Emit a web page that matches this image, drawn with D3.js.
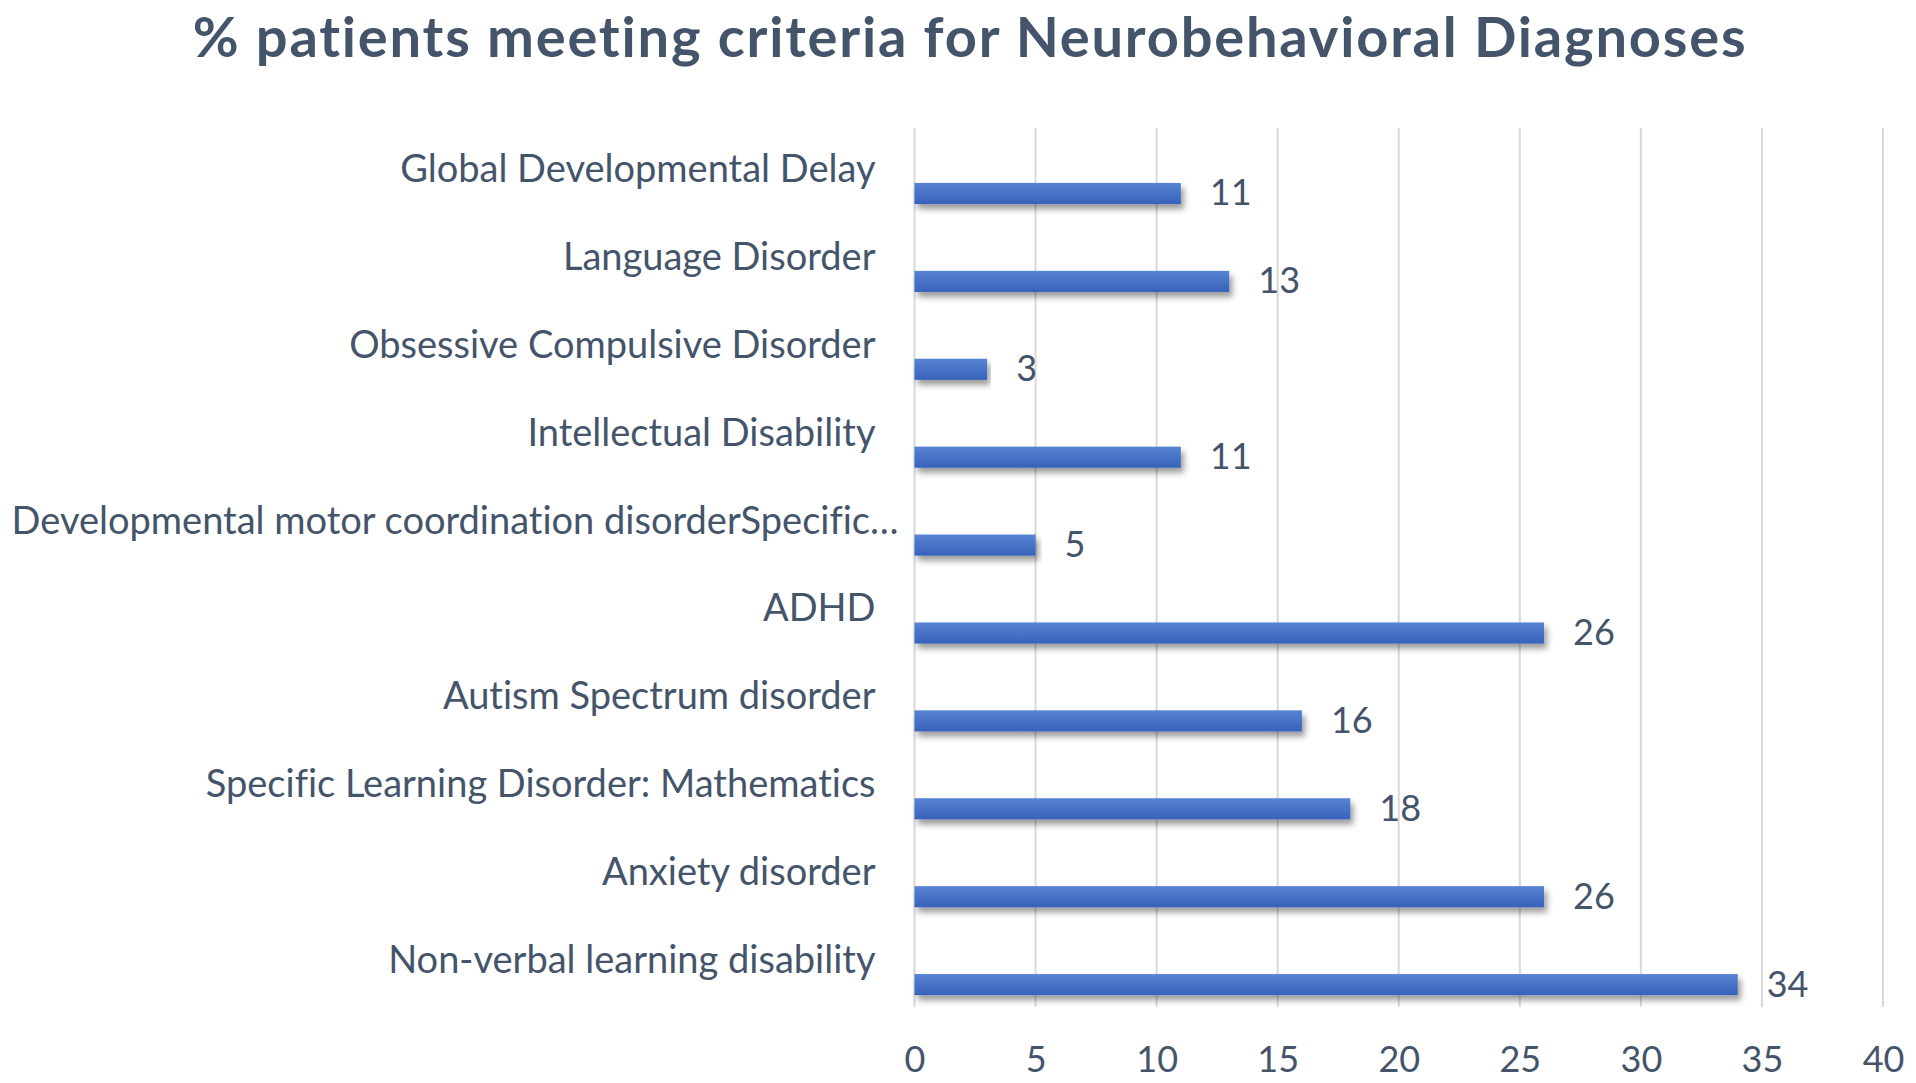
<!DOCTYPE html>
<html>
<head>
<meta charset="utf-8">
<script src="https://cdn.jsdelivr.net/npm/d3@7"></script>
<style>
  body { margin: 0; background: #fff; }
  text { font-family: Lato, "Open Sans", sans-serif; font-variant-ligatures: none; }
</style>
</head>
<body>
<div id="chart"></div>
<script>
// chart data
var categories = [
  "Global Developmental Delay",
  "Language Disorder",
  "Obsessive Compulsive Disorder",
  "Intellectual Disability",
  "Developmental motor coordination disorderSpecific…",
  "ADHD",
  "Autism Spectrum disorder",
  "Specific Learning Disorder: Mathematics",
  "Anxiety disorder",
  "Non-verbal learning disability"
];
var values = [11, 13, 3, 11, 5, 26, 16, 18, 26, 34];
var xTicks = [0, 5, 10, 15, 20, 25, 30, 35, 40];
var title = "% patients meeting criteria for Neurobehavioral Diagnoses";

var W = 1916, H = 1083;
var margin = {top: 128, right: 33, bottom: 76, left: 914.5};
var width = W - margin.left - margin.right,
    height = H - margin.top - margin.bottom;

var textColor = "#44546a";

var svg = d3.select("#chart")
  .append("svg")
    .attr("width", W)
    .attr("height", H);

var defs = svg.append("defs");
var grad = defs.append("linearGradient")
    .attr("id", "barGrad")
    .attr("x1", 0).attr("y1", 0).attr("x2", 0).attr("y2", 1);
grad.append("stop").attr("offset", "0%").attr("stop-color", "#5785d3");
grad.append("stop").attr("offset", "50%").attr("stop-color", "#4673c6");
grad.append("stop").attr("offset", "100%").attr("stop-color", "#3762bb");

var shadow = defs.append("filter")
    .attr("id", "shadow")
    .attr("x", "-5%").attr("y", "-50%")
    .attr("width", "110%").attr("height", "250%");
shadow.append("feDropShadow")
    .attr("dx", 3).attr("dy", 5)
    .attr("stdDeviation", 3)
    .attr("flood-color", "#000")
    .attr("flood-opacity", 0.4);

// title
svg.append("text")
    .attr("x", 970)
    .attr("y", 57)
    .attr("text-anchor", "middle")
    .style("font-size", "56px")
    .style("font-weight", "bold")
    .style("letter-spacing", "1.8px")
    .style("fill", textColor)
    .text(title);

var g = svg.append("g")
    .attr("transform", "translate(" + margin.left + "," + margin.top + ")");

// X scale
var x = d3.scaleLinear()
  .domain([0, 40])
  .range([0, width]);

// Y scale
var y = d3.scaleBand()
  .domain(categories)
  .range([0, height])
  .paddingInner(0)
  .paddingOuter(0);

// gridlines
g.append("g")
  .selectAll("line")
  .data(xTicks)
  .enter()
  .append("line")
    .attr("x1", function(d) { return x(d); })
    .attr("x2", function(d) { return x(d); })
    .attr("y1", 0)
    .attr("y2", height)
    .attr("stroke", "#d9d9d9")
    .attr("stroke-width", 2);

// X axis
var xAxis = g.append("g")
  .attr("transform", "translate(0," + height + ")")
  .call(d3.axisBottom(x).tickValues(xTicks).tickSize(0).tickPadding(0));
xAxis.select(".domain").remove();
xAxis.selectAll("text")
  .attr("y", 65)
  .attr("dy", 0)
  .style("font-size", "36px")
  .style("fill", textColor);

// Y axis labels
var yAxis = g.append("g")
  .call(d3.axisLeft(y).tickSize(0).tickPadding(39));
yAxis.select(".domain").remove();
yAxis.selectAll("text")
  .attr("dy", 10)
  .attr("dx", function(d, i) { return i === 4 ? 23 : 0; })
  .style("font-size", "38px")
  .style("fill", textColor);

// bars
var barTop = y.bandwidth() * 0.625,
    barH = y.bandwidth() * 0.24;

g.selectAll("rect.bar")
  .data(values)
  .enter()
  .append("rect")
    .attr("class", "bar")
    .attr("x", x(0))
    .attr("y", function(d, i) { return y(categories[i]) + barTop; })
    .attr("width", function(d) { return x(d) - x(0); })
    .attr("height", barH)
    .attr("fill", "url(#barGrad)")
    .attr("filter", "url(#shadow)");

// value labels
g.selectAll("text.val")
  .data(values)
  .enter()
  .append("text")
    .attr("class", "val")
    .attr("x", function(d) { return x(d) + 29; })
    .attr("y", function(d, i) { return y(categories[i]) + barTop + barH / 2; })
    .attr("dy", 12)
    .style("font-size", "36px")
    .style("fill", textColor)
    .text(function(d) { return d; });
</script>
</body>
</html>
